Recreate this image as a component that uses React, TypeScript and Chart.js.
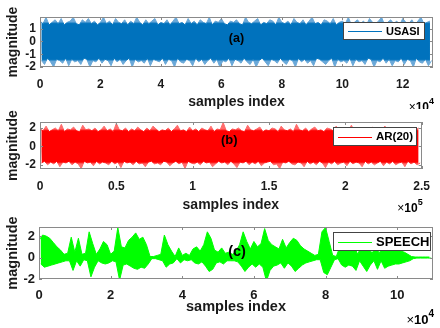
import React, { useEffect, useRef } from "react";
import { Chart, registerables } from "chart.js";

Chart.register(...registerables);

const FONT = "'Liberation Sans', Arial, Helvetica, sans-serif";

// ---------- Panel (a): USASI noise, peaks every 1000 samples ----------
const usasiLabel = "USASI";
const usasiStep = 1000;
const usasiTicksX = [0, 2, 4, 6, 8, 10, 12]; // x 10^4
const usasiTicksY = [-2, -1, 0, 1];
const usasiHi = [
  1.6, 1.4, 1.9, 1.3, 1.5, 1.7, 1.4, 1.8, 1.3, 1.5,
  1.6, 1.9, 1.4, 1.3, 1.7, 1.5, 1.8, 1.4, 1.6, 1.3,
  1.5, 1.9, 1.4, 1.6, 1.3, 1.8, 1.5, 1.4, 1.7, 1.3,
  1.6, 1.4, 1.9, 1.5, 1.3, 1.7, 1.4, 1.6, 1.8, 1.3,
  1.5, 1.4, 1.7, 1.3, 1.6, 1.9, 1.4, 1.5, 1.3, 1.8,
  1.4, 1.6, 1.3, 1.7, 1.5, 1.4, 1.9, 1.3, 1.6, 1.5,
  1.8, 1.4, 1.3, 1.6, 1.5, 1.7, 1.4, 1.3, 1.9, 1.5,
  1.4, 1.6, 1.8, 1.3, 1.5, 1.4, 1.7, 1.6, 1.3, 1.9,
  1.5, 1.4, 1.6, 1.3, 1.8, 1.5, 1.4, 1.7, 1.3, 1.6,
  1.9, 1.4, 1.5, 1.3, 1.7, 1.6, 1.4, 1.8, 1.3, 1.5,
  1.6, 1.4, 1.9, 1.3, 1.5, 1.7, 1.4, 1.6, 1.3, 1.8,
  1.5, 1.4, 1.6, 1.9, 1.3, 1.5, 1.7, 1.4, 1.6, 1.3,
  1.8, 1.5, 1.4, 1.7, 1.3, 1.6, 1.9, 1.4, 1.5, 1.6,
];
const usasiLo = [
  -1.5, -1.8, -1.3, -1.6, -2.0, -1.4, -1.5, -1.7, -1.3, -1.9,
  -1.4, -1.6, -1.5, -1.8, -1.3, -1.4, -2.0, -1.5, -1.6, -1.3,
  -1.7, -1.4, -1.5, -1.9, -1.3, -1.6, -1.4, -1.8, -1.5, -1.3,
  -2.0, -1.4, -1.6, -1.5, -1.7, -1.3, -1.9, -1.4, -1.5, -1.6,
  -1.3, -1.8, -1.4, -1.5, -2.0, -1.3, -1.6, -1.7, -1.4, -1.5,
  -1.9, -1.3, -1.6, -1.4, -1.8, -1.5, -1.3, -1.7, -1.4, -2.0,
  -1.5, -1.6, -1.3, -1.9, -1.4, -1.5, -1.7, -1.3, -1.6, -1.8,
  -1.4, -2.0, -1.5, -1.3, -1.6, -1.9, -1.4, -1.5, -1.7, -1.3,
  -1.6, -1.8, -1.4, -1.5, -2.0, -1.3, -1.6, -1.4, -1.7, -1.5,
  -1.9, -1.3, -1.4, -1.6, -1.8, -1.5, -1.3, -2.0, -1.4, -1.6,
  -1.5, -1.7, -1.3, -1.9, -1.4, -1.6, -1.5, -1.8, -1.3, -1.4,
  -2.0, -1.5, -1.6, -1.3, -1.7, -1.4, -1.9, -1.5, -1.6, -1.3,
  -1.8, -1.4, -1.5, -2.0, -1.3, -1.6, -1.7, -1.4, -1.9, -1.5,
];

// ---------- Panel (b): AR(20) process, peaks every 2000 samples ----------
const arLabel = "AR(20)";
const arStep = 2000;
const arTicksX = [0, 0.5, 1, 1.5, 2, 2.5]; // x 10^5
const arTicksY = [-2, 0, 2];
const arHi = [
  1.9, 1.7, 2.2, 1.6, 1.8, 2.0, 1.7, 2.4, 1.6, 1.9,
  1.8, 2.1, 1.7, 1.6, 2.3, 1.8, 1.9, 1.7, 2.0, 1.6,
  1.8, 2.2, 1.7, 1.9, 1.6, 2.5, 1.8, 1.7, 2.0, 1.6,
  1.9, 1.7, 2.1, 1.8, 1.6, 2.0, 1.7, 2.2, 1.9, 1.6,
  1.8, 1.7, 2.0, 1.6, 1.9, 2.3, 1.7, 1.8, 1.6, 2.1,
  1.7, 1.9, 1.6, 2.0, 1.8, 1.7, 2.2, 1.6, 1.9, 1.8,
  2.6, 1.7, 1.6, 1.9, 1.8, 2.0, 1.7, 1.6, 2.3, 1.8,
  1.7, 1.9, 2.1, 1.6, 1.8, 1.7, 2.0, 1.9, 1.6, 2.2,
  1.8, 1.7, 1.9, 1.6, 2.4, 1.8, 1.7, 2.0, 1.6, 1.9,
  2.1, 1.7, 1.8, 1.6, 2.0, 1.9, 1.7, 2.2, 1.6, 1.8,
  1.9, 1.7, 2.3, 1.6, 1.8, 2.0, 1.7, 1.9, 1.6, 2.1,
  1.8, 1.7, 1.9, 2.2, 1.6, 1.9, 1.7, 2.0, 1.8, 1.6,
  2.1, 1.7, 1.9, 1.8, 2.0,
];
const arLo = [
  -1.8, -1.6, -2.0, -1.7, -1.9, -1.6, -2.2, -1.7, -1.8, -1.6,
  -2.0, -1.7, -1.9, -2.4, -1.6, -1.8, -1.7, -2.1, -1.6, -1.9,
  -1.7, -1.8, -2.0, -1.6, -1.9, -1.7, -2.3, -1.6, -1.8, -1.7,
  -2.0, -1.6, -1.9, -1.8, -2.2, -1.7, -1.6, -1.9, -1.8, -2.0,
  -1.6, -1.7, -2.1, -1.8, -1.6, -1.9, -1.7, -2.4, -1.6, -1.8,
  -1.9, -1.7, -2.0, -1.6, -1.8, -1.7, -2.2, -1.9, -1.6, -1.8,
  -1.7, -2.0, -1.6, -1.9, -2.3, -1.7, -1.8, -1.6, -2.0, -1.7,
  -1.9, -1.6, -2.1, -1.8, -1.7, -1.6, -2.0, -1.9, -2.4, -1.7,
  -1.8, -1.6, -1.9, -2.0, -1.7, -1.8, -2.2, -1.6, -1.9, -1.7,
  -2.0, -1.6, -1.8, -2.3, -1.7, -1.9, -1.6, -2.0, -1.8, -1.7,
  -2.1, -1.6, -1.9, -1.7, -1.8, -2.2, -1.6, -1.9, -1.7, -2.0,
  -1.8, -1.6, -2.1, -1.7, -1.9, -1.6, -2.0, -1.8, -1.7, -2.2,
  -1.6, -1.9, -1.7, -2.0, -1.8,
];

// ---------- Panel (c): speech, envelope every 1000 samples ----------
const speechLabel = "SPEECH";
const speechStep = 1000;
const speechTicksX = [0, 2, 4, 6, 8, 10]; // x 10^4
const speechTicksY = [-2, 0, 2];
const speechHi = [
  1.6, 2.1, 2.0, 1.8, 1.4, 1.0, 0.7, 0.3, 0.4, 1.9,
  0.5, 1.8, 0.3, 0.4, 2.4, 1.3, 0.3, 0.8, 1.5, 1.2,
  0.3, 0.6, 2.8, 1.0, 0.9, 1.6, 1.9, 2.3, 1.7, 1.9,
  1.2, 0.1, 0.1, 0.2, 0.3, 2.1, 1.2, 0.6, 0.1, 0.9,
  0.2, 0.4, 0.2, 0.8, 1.0, 0.6, 1.2, 2.4, 1.8, 0.7,
  0.5, 0.9, 0.4, 0.5, 0.3, 0.6, 1.2, 2.4, 1.5, 0.8,
  1.5, 1.0, 1.3, 2.7, 1.6, 1.2, 1.0, 0.8, 1.7, 0.9,
  1.4, 1.8, 1.6, 1.1, 0.8, 0.6, 0.4, 0.2, 0.3, 2.4,
  2.8, 1.5, 0.2, 0.1, 1.0, 1.2, 0.9, 1.1, 1.0, 0.3,
  1.1, 1.0, 0.9, 0.4, 1.0, 0.4, 1.1, 0.9, 1.0, 0.8,
  0.7, 0.6, 0.5, 0.3, 0.1, 0.05, 0.05, 0.05, 0.05, 0.05,
];
const speechLo = [
  -0.6, -0.9, -0.8, -0.7, -0.6, -0.5, -0.4, -0.3, -0.3, -1.2,
  -0.3, -0.8, -0.2, -0.3, -1.8, -0.9, -0.3, -0.5, -0.6, -0.5,
  -0.3, -0.4, -2.1, -0.7, -0.6, -0.8, -1.0, -1.1, -0.9, -1.0,
  -0.6, -0.1, -0.1, -0.2, -0.3, -0.9, -0.6, -0.5, -0.1, -0.5,
  -0.2, -0.3, -0.2, -0.5, -0.6, -0.4, -0.8, -1.3, -1.1, -0.5,
  -0.4, -0.6, -0.3, -0.3, -0.3, -0.4, -0.8, -1.3, -0.9, -0.6,
  -0.9, -0.6, -0.9, -2.2, -1.2, -0.8, -0.7, -0.5, -1.0, -0.5,
  -0.8, -1.3, -1.0, -0.7, -0.5, -0.4, -0.3, -0.2, -0.2, -1.4,
  -1.6, -0.9, -0.2, -0.1, -0.7, -0.9, -0.7, -0.8, -1.2, -0.3,
  -0.8, -1.3, -0.7, -0.3, -1.1, -0.3, -1.0, -0.8, -0.7, -0.6,
  -0.6, -0.5, -0.4, -0.3, -0.1, -0.05, -0.05, -0.05, -0.05, -0.05,
];

// Upper / lower envelope traces of the signal
function buildEnvelope(vals: number[], step: number, shift: number) {
  return vals.map((v, i) => ({ x: i * step + shift, y: v }));
}

type PanelCfg = {
  top: number;
  height: number;
  area: { left: number; right: number; top: number; bottom: number };
  xMax: number;
  xUnit: number;
  exp: string;
  yMin: number;
  yMax: number;
  ticksX: number[];
  ticksY: number[];
  hi: { x: number; y: number }[];
  lo: { x: number; y: number }[];
  color: string;
  light: string;
  core: number | null;
  label: string;
  tag: string;
  tagX: number;
  tagY: number;
  tagSize: number;
  tickSize: number;
  tickPad: number;
  titleSize: number;
  titleBottom: number;
  expOffset: number;
  legend: { x: number; y: number; w: number; h: number; size: number };
};

const panels: PanelCfg[] = [
  {
    top: 0, height: 109,
    area: { left: 40, right: 433, top: 17, bottom: 67 },
    xMax: 130000, xUnit: 1e4, exp: "4",
    yMin: -2, yMax: 1.92,
    ticksX: usasiTicksX, ticksY: usasiTicksY,
    hi: buildEnvelope(usasiHi, usasiStep, 0),
    lo: buildEnvelope(usasiLo, usasiStep, usasiStep / 2),
    color: "#0072BD", light: "#6aa8d8", core: 1.4, label: usasiLabel,
    tag: "(a)", tagX: 65000, tagY: 0.25, tagSize: 12.5,
    tickSize: 12, tickPad: 10, titleSize: 14, titleBottom: -1.5, expOffset: 41,
    legend: { x: 343, y: 22, w: 82, h: 18, size: 11 },
  },
  {
    top: 109, height: 104,
    area: { left: 40, right: 425, top: 13, bottom: 60 },
    xMax: 250000, xUnit: 1e5, exp: "5",
    yMin: -2.45, yMax: 2.65,
    ticksX: arTicksX, ticksY: arTicksY,
    hi: buildEnvelope(arHi, arStep, 0),
    lo: buildEnvelope(arLo, arStep, arStep / 2),
    color: "#FF0000", light: "#ff6b6b", core: 1.7, label: arLabel,
    tag: "(b)", tagX: 124000, tagY: 0.6, tagSize: 13,
    tickSize: 12, tickPad: 10, titleSize: 14, titleBottom: -1, expOffset: 40,
    legend: { x: 333, y: 18, w: 84, h: 19, size: 11.5 },
  },
  {
    top: 213, height: 115,
    area: { left: 39, right: 433, top: 14, bottom: 66 },
    xMax: 110000, xUnit: 1e4, exp: "4",
    yMin: -2, yMax: 2.85,
    ticksX: speechTicksX, ticksY: speechTicksY,
    hi: buildEnvelope(speechHi, speechStep, 0),
    lo: buildEnvelope(speechLo, speechStep, speechStep / 2),
    color: "#00FF00", light: "#00FF00", core: null, label: speechLabel,
    tag: "(c)", tagX: 55300, tagY: 0.5, tagSize: 14.5,
    tickSize: 13, tickPad: 9, titleSize: 14.5, titleBottom: 12.5, expOffset: 41,
    legend: { x: 333, y: 19, w: 98, h: 19, size: 13 },
  },
];

const fmt = (v: number) => String(+v.toFixed(2));

// Solid colour inside the dense core of the trace, lighter where only sparse spikes reach
function bandColor(cfg: PanelCfg) {
  return (c: any) => {
    const chart = c.chart;
    const a = chart.chartArea;
    if (!a || cfg.core === null) return cfg.color;
    const ys = chart.scales.y;
    const h = a.bottom - a.top;
    const fTop = Math.min(Math.max((ys.getPixelForValue(cfg.core) - a.top) / h, 0), 1);
    const fBot = Math.min(Math.max((ys.getPixelForValue(-cfg.core) - a.top) / h, 0), 1);
    const g = chart.ctx.createLinearGradient(0, a.top, 0, a.bottom);
    g.addColorStop(0, cfg.light);
    g.addColorStop(Math.max(fTop - 0.04, 0), cfg.light);
    g.addColorStop(fTop, cfg.color);
    g.addColorStop(fBot, cfg.color);
    g.addColorStop(Math.min(fBot + 0.04, 1), cfg.light);
    g.addColorStop(1, cfg.light);
    return g;
  };
}

function makeDecor(cfg: PanelCfg) {
  return {
    id: "decor",
    afterDatasetsDraw(chart: any) {
      const { ctx, chartArea: a, scales } = chart;
      const xs = scales.x;
      const ys = scales.y;
      ctx.save();
      // inward tick marks and box
      ctx.strokeStyle = "#8a8a8a";
      ctx.lineWidth = 1;
      ctx.beginPath();
      for (const t of xs.ticks) {
        const px = Math.round(xs.getPixelForValue(t.value)) + 0.5;
        ctx.moveTo(px, a.bottom);
        ctx.lineTo(px, a.bottom - 3);
        ctx.moveTo(px, a.top);
        ctx.lineTo(px, a.top + 3);
      }
      for (const t of ys.ticks) {
        const py = Math.round(ys.getPixelForValue(t.value)) + 0.5;
        ctx.moveTo(a.left, py);
        ctx.lineTo(a.left + 3, py);
        ctx.moveTo(a.right, py);
        ctx.lineTo(a.right - 3, py);
      }
      ctx.stroke();
      ctx.strokeRect(
        Math.round(a.left) + 0.5,
        Math.round(a.top) + 0.5,
        Math.round(a.right - a.left) - 1,
        Math.round(a.bottom - a.top) - 1
      );

      // panel tag
      ctx.fillStyle = "#000";
      ctx.font = `bold ${cfg.tagSize}px ${FONT}`;
      ctx.textAlign = "center";
      ctx.textBaseline = "middle";
      ctx.fillText(cfg.tag, xs.getPixelForValue(cfg.tagX), ys.getPixelForValue(cfg.tagY));

      // legend
      const L = cfg.legend;
      ctx.fillStyle = "#fff";
      ctx.fillRect(L.x, L.y, L.w, L.h);
      ctx.strokeStyle = "#444";
      ctx.lineWidth = 1;
      ctx.strokeRect(L.x + 0.5, L.y + 0.5, L.w - 1, L.h - 1);
      const ly = Math.round(L.y + L.h / 2) + 0.5;
      ctx.strokeStyle = cfg.color;
      ctx.beginPath();
      ctx.moveTo(L.x + 5, ly);
      ctx.lineTo(L.x + 39, ly);
      ctx.stroke();
      ctx.fillStyle = "#000";
      ctx.font = `bold ${L.size}px ${FONT}`;
      ctx.textAlign = "left";
      ctx.textBaseline = "middle";
      ctx.fillText(chart.data.datasets[0].label, L.x + 43, L.y + L.h / 2 + 0.5);

      // x10^n multiplier
      const yBase = a.bottom + cfg.expOffset;
      const expSize = Math.round(cfg.tickSize * 0.75);
      ctx.font = `${cfg.tickSize}px ${FONT}`;
      const wTimes = ctx.measureText("\u00d7").width;
      ctx.font = `bold ${cfg.tickSize}px ${FONT}`;
      const wTen = ctx.measureText("10").width;
      ctx.font = `bold ${expSize}px ${FONT}`;
      const wExp = ctx.measureText(cfg.exp).width;
      let x0 = a.right + 1 - (wTimes + wTen + wExp);
      ctx.textAlign = "left";
      ctx.textBaseline = "middle";
      ctx.font = `${cfg.tickSize}px ${FONT}`;
      ctx.fillText("\u00d7", x0, yBase);
      x0 += wTimes;
      ctx.font = `bold ${cfg.tickSize}px ${FONT}`;
      ctx.fillText("10", x0, yBase);
      x0 += wTen;
      ctx.font = `bold ${expSize}px ${FONT}`;
      ctx.fillText(cfg.exp, x0, yBase - 6);
      ctx.restore();
    },
  };
}

function Panel({ cfg }: { cfg: PanelCfg }) {
  const ref = useRef<HTMLCanvasElement>(null);
  useEffect(() => {
    const canvas = ref.current;
    if (!canvas) return;
    const tickFont = { family: FONT, size: cfg.tickSize, weight: "bold" as const };
    const titleFont = { family: FONT, size: cfg.titleSize, weight: "bold" as const };
    const paint = bandColor(cfg);
    const chart = new Chart(canvas, {
      type: "line",
      data: {
        datasets: [
          {
            label: cfg.label,
            data: cfg.hi,
            borderColor: paint,
            backgroundColor: paint,
            borderWidth: 1,
            pointRadius: 0,
            tension: 0,
            fill: "+1",
          },
          {
            label: cfg.label + " (lower)",
            data: cfg.lo,
            borderColor: paint,
            backgroundColor: paint,
            borderWidth: 1,
            pointRadius: 0,
            tension: 0,
            fill: false,
          },
        ],
      },
      options: {
        animation: false,
        responsive: false,
        events: [],
        layout: {
          padding: { left: 0, right: 440 - cfg.area.right, top: cfg.area.top, bottom: 0 },
        },
        plugins: {
          legend: { display: false },
          tooltip: { enabled: false },
          filler: { propagate: false },
        },
        scales: {
          x: {
            type: "linear",
            min: 0,
            max: cfg.xMax,
            grid: { display: false, drawTicks: false },
            border: { display: false },
            ticks: {
              font: tickFont,
              color: "#1a1a1a",
              padding: cfg.tickPad,
              maxRotation: 0,
              autoSkip: false,
              callback: (v: any) => fmt(Number(v) / cfg.xUnit),
            },
            afterBuildTicks: (s: any) => {
              s.ticks = cfg.ticksX.map((v) => ({ value: v * cfg.xUnit }));
            },
            afterFit: (s: any) => {
              s.height = cfg.height - cfg.area.bottom;
            },
            title: {
              display: true,
              text: "samples index",
              font: titleFont,
              color: "#1a1a1a",
              padding: { top: 0, bottom: cfg.titleBottom },
            },
          },
          y: {
            type: "linear",
            min: cfg.yMin,
            max: cfg.yMax,
            grid: { display: false, drawTicks: false },
            border: { display: false },
            ticks: {
              font: tickFont,
              color: "#1a1a1a",
              padding: 4,
              autoSkip: false,
              callback: (v: any) => fmt(Number(v)),
            },
            afterBuildTicks: (s: any) => {
              s.ticks = cfg.ticksY.map((v) => ({ value: v }));
            },
            afterFit: (s: any) => {
              s.width = cfg.area.left;
            },
            title: {
              display: true,
              text: "magnitude",
              font: titleFont,
              color: "#1a1a1a",
              padding: { top: 4.5, bottom: 0 },
            },
          },
        },
      },
      plugins: [makeDecor(cfg)],
    });
    return () => chart.destroy();
  }, [cfg]);
  return (
    <canvas
      ref={ref}
      width={440}
      height={cfg.height}
      style={{ position: "absolute", left: 0, top: cfg.top, width: 440, height: cfg.height }}
    />
  );
}

export default function App() {
  return (
    <div
      style={{
        position: "absolute",
        left: 0,
        top: 0,
        width: 440,
        height: 328,
        background: "#fff",
        overflow: "hidden",
      }}
    >
      {panels.map((p, i) => (
        <Panel key={i} cfg={p} />
      ))}
    </div>
  );
}
